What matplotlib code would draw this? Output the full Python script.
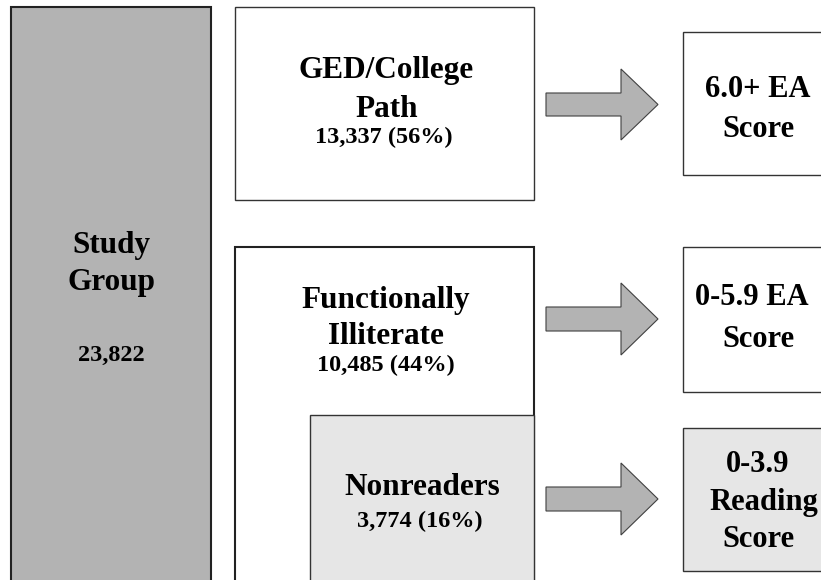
import matplotlib
matplotlib.use("Agg")
import matplotlib.pyplot as plt
from matplotlib.patches import Rectangle, Polygon

# ---- data ----
group_titles = ["Study\nGroup", "GED/College\nPath", "Functionally\nIlliterate", "Nonreaders"]
group_counts = [23822, 13337, 10485, 3774]
group_pcts = [None, 56, 44, 16]
outcome_labels = ["6.0+ EA\nScore", "0-5.9 EA\nScore", "0-3.9\nReading\nScore"]

FONT = "Liberation Serif"
W, H = 821, 580
fig = plt.figure(figsize=(W / 100, H / 100), dpi=100)
ax = fig.add_axes([0, 0, 1, 1])
ax.set_xlim(0, W)
ax.set_ylim(H, 0)
ax.axis("off")

EDGE = "#333333"
DARK = "#b3b3b3"
LIGHT = "#e6e6e6"
TS = 22.5  # title size
NS = 17.5  # number size
OS = 22    # outcome size


def box(x0, y0, x1, y1, fc, lw=1.0, ec=EDGE):
    ax.add_patch(Rectangle((x0, y0), x1 - x0, y1 - y0, facecolor=fc,
                           edgecolor=ec, linewidth=lw, clip_on=True))


def arrow(x0, yc, shaft_h, head_x, tip_x, head_h):
    pts = [(x0, yc - shaft_h / 2), (head_x, yc - shaft_h / 2), (head_x, yc - head_h / 2),
           (tip_x, yc), (head_x, yc + head_h / 2), (head_x, yc + shaft_h / 2),
           (x0, yc + shaft_h / 2)]
    ax.add_patch(Polygon(pts, closed=True, facecolor=DARK, edgecolor="#404040", linewidth=0.8))


def txt(x, y, s, size):
    ax.text(x, y, s, ha="center", va="baseline", fontsize=size, fontweight="bold",
            family=FONT, color="black")


def fmt(i):
    c = f"{group_counts[i]:,}"
    return c if group_pcts[i] is None else f"{c} ({group_pcts[i]}%)"


# Study group
box(11, 7, 211, 600, DARK, lw=1.5, ec="#222222")
t = group_titles[0].split("\n")
txt(111.5, 253, t[0], TS)
txt(111.5, 290, t[1], TS)
txt(111.5, 361, fmt(0), NS)

# GED/College
box(235, 7, 534, 200, "white")
t = group_titles[1].split("\n")
txt(386.5, 78, t[0], TS)
txt(386.5, 117, t[1], TS)
txt(384, 143, fmt(1), NS)

# Functionally illiterate
box(235, 247, 534, 600, "white", lw=1.5, ec="#222222")
t = group_titles[2].split("\n")
txt(386, 308, t[0], TS)
txt(386, 344, t[1], TS)
txt(386, 371, fmt(2), NS)

# Nonreaders
box(310, 415, 534, 600, LIGHT)
txt(422.5, 495, group_titles[3], TS)
txt(420, 527, fmt(3), NS)

# Arrows
arrow(546, 104.5, 23, 621, 658, 71)
arrow(546, 319, 24, 621, 658, 72)
arrow(546, 499, 24, 621, 658, 72)

# Outcome boxes
box(683, 32, 830, 175, "white")
box(683, 247, 830, 392, "white")
box(683, 428, 830, 571, LIGHT)

l = outcome_labels[0].split("\n")
txt(758, 97, l[0], OS)
txt(758, 137, l[1], OS)
l = outcome_labels[1].split("\n")
txt(752, 305, l[0], OS)
txt(758, 347, l[1], OS)
l = outcome_labels[2].split("\n")
txt(758, 472, l[0], OS)
txt(764, 510, l[1], OS)
txt(758, 547, l[2], OS)

fig.savefig("out.png", dpi=100)
